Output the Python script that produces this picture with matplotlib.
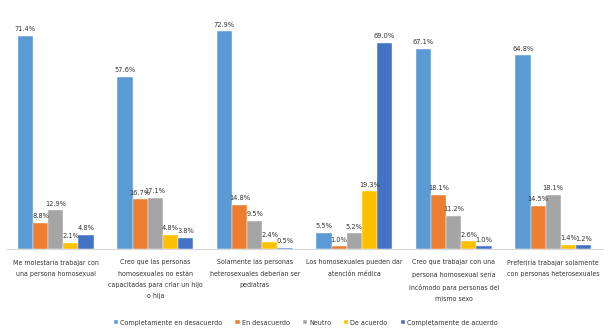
import matplotlib
matplotlib.use("Agg")
import matplotlib.pyplot as plt
import numpy as np
from matplotlib import font_manager

categories = [
    "Me molestaría trabajar con\nuna persona homosexual",
    "Creo que las personas\nhomosexuales no están\ncapacitadas para criar un hijo\no hija",
    "Solamente las personas\nheterosexuales deberían ser\npediatras",
    "Los homosexuales pueden dar\natención médica",
    "Creo que trabajar con una\npersona homosexual sería\nincómodo para personas del\nmismo sexo",
    "Preferiría trabajar solamente\ncon personas heterosexuales",
]
series_names = ["Completamente en desacuerdo", "En desacuerdo", "Neutro",
                "De acuerdo", "Completamente de acuerdo"]
completamente_desacuerdo = [71.4, 57.6, 72.9, 5.5, 67.1, 64.8]
en_desacuerdo = [8.8, 16.7, 14.8, 1.0, 18.1, 14.5]
neutro = [12.9, 17.1, 9.5, 5.2, 11.2, 18.1]
de_acuerdo = [2.1, 4.8, 2.4, 19.3, 2.6, 1.4]
completamente_acuerdo = [4.8, 3.8, 0.5, 69.0, 1.0, 1.2]

series = [completamente_desacuerdo, en_desacuerdo, neutro, de_acuerdo, completamente_acuerdo]
colors = ["#5B9BD5", "#ED7D31", "#A5A5A5", "#FFC000", "#4472C4"]

# choose a narrow font if available
fonts = font_manager.fontManager.ttflist
names = {f.name for f in fonts}
stretch = "normal"
if "Liberation Sans Narrow" in names:
    family = ["Liberation Sans Narrow", "DejaVu Sans"]
    scale = 1.2
elif any(f.name == "DejaVu Sans" and str(f.stretch) in ("condensed", "semi-condensed") for f in fonts):
    family = ["DejaVu Sans"]
    stretch = "condensed"
    scale = 0.95
else:
    family = ["Liberation Sans", "DejaVu Sans"]
    scale = 1.0
plt.rcParams["font.family"] = family
plt.rcParams["font.stretch"] = stretch

fs_val = 5.6 * scale
fs_cat = 5.3 * scale
fs_leg = 5.4 * scale

fig = plt.figure(figsize=(6.08, 3.31), dpi=100)
ax = fig.add_axes([6/608, (331-249)/331, 597/608, (249-10)/331])

x = np.arange(len(categories))
w = 0.152
for i, (vals, c, name) in enumerate(zip(series, colors, series_names)):
    pos = x + (i - 2) * w
    ax.bar(pos, vals, width=w, color=c, label=name, edgecolor="white", linewidth=0.3)
    for p, v in zip(pos, vals):
        ax.annotate(f"{v:.1f}%", (p, v), xytext=(0, 2.5), textcoords="offset points",
                    ha="center", va="bottom", fontsize=fs_val, color="#333333")

ax.set_xlim(-0.5, len(categories) - 0.5)
ax.set_ylim(0, 80)
ax.set_xticks([])
ax.set_yticks([])
for s in ["top", "right", "left"]:
    ax.spines[s].set_visible(False)
ax.spines["bottom"].set_color("#D9D9D9")
ax.spines["bottom"].set_linewidth(0.8)

for xi, lab in zip(x, categories):
    ax.annotate(lab, (xi, 0), xytext=(0, -7.5), textcoords="offset points",
                ha="center", va="top", fontsize=fs_cat, color="#333333", linespacing=2.05)

leg = fig.legend(loc="center", bbox_to_anchor=(0.503, (331-322.7)/331), ncol=5,
                 frameon=False, fontsize=fs_leg, handlelength=0.6, handleheight=0.6,
                 handletextpad=0.3, columnspacing=1.8, borderaxespad=0)
for t in leg.get_texts():
    t.set_color("#333333")

fig.savefig("out.png", dpi=100)
